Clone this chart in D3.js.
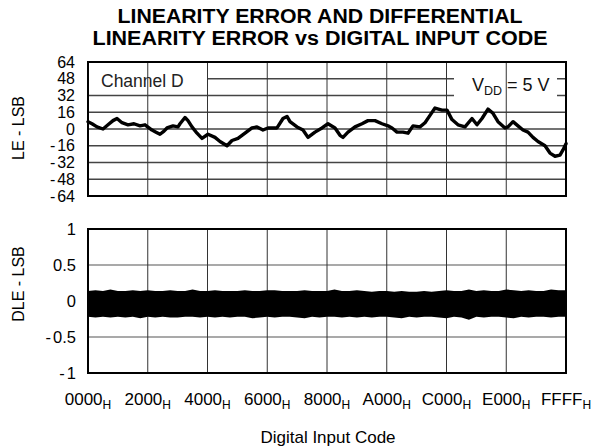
<!DOCTYPE html>
<html>
<head>
<meta charset="utf-8">
<script src="https://cdn.jsdelivr.net/npm/d3@7"></script>
<style>
  html, body { margin: 0; padding: 0; background: #fff; }
  svg { display: block; font-family: "Liberation Sans", Arial, sans-serif; }
</style>
</head>
<body>
<svg id="chart" width="610" height="448"></svg>
<script>
// ---- data ----
const titleLines = ["LINEARITY ERROR AND DIFFERENTIAL", "LINEARITY ERROR vs DIGITAL INPUT CODE"];
const titleWidths = [405, 455];
const xTickCodes = [0x0000, 0x2000, 0x4000, 0x6000, 0x8000, 0xA000, 0xC000, 0xE000, 0xFFFF];
const xTickLabels = ["0000", "2000", "4000", "6000", "8000", "A000", "C000", "E000", "FFFF"];
const leTicks = [64, 48, 32, 16, 0, -16, -32, -48, -64];
const dleTicks = [1, 0.5, 0, -0.5, -1];
const dleTickLabels = ["1", "0.5", "0", "0.5", "1"];

// linearity error (LSB) sampled along the input code
const leCodes = [0, 548, 1234, 2057, 2742, 3428, 3976, 4661, 5484, 6307, 7130, 7815, 8774, 9323, 9871,
  10420, 10831, 11654, 12339, 12613, 13299, 13710, 14258, 14944, 15629, 16452, 17412, 18097, 19057,
  19742, 20565, 21525, 22484, 23170, 23993, 24678, 25912, 26735, 27283, 27694, 28654, 29477, 30162,
  31122, 32081, 32904, 33864, 34549, 34961, 35646, 36606, 37565, 38388, 39348, 40307, 41130, 41678,
  42364, 43187, 43872, 44558, 45517, 46203, 46888, 47574, 48534, 49219, 49905, 50727, 51687, 52646,
  53332, 54017, 54840, 55526, 56211, 57171, 57582, 58268, 58953, 59639, 60324, 61010, 61695, 62655,
  63340, 64026, 64711, 65123, 65535];
const leValues = [7, 5, 2, 0, 4, 8, 10, 6, 4, 5, 3, 4, -1, -3, -5,
  -2, 1, 3, 2, 5, 11, 8, 2, -4, -9, -5, -8, -12, -16,
  -11, -9, -4, 1, 2, -1, 1, 1, 10, 12, 7, 2, -1, -8,
  -3, 1, 5, 1, -6, -8, -3, 2, 5, 8, 8, 5, 3, 1,
  -3, -3, -4, 3, 2, 6, 13, 20, 18, 18, 9, 4, 2, 10,
  4, 10, 19, 15, 7, 1, 2, 7, 3, -1, -3, -8, -12, -16,
  -23, -26, -25, -20, -14];

// differential linearity error envelope (LSB), every 1024 codes
const dleUpper = [0.14, 0.15, 0.14, 0.16, 0.14, 0.14, 0.15, 0.14, 0.15, 0.14, 0.14, 0.15, 0.14, 0.14, 0.16, 0.14,
  0.14, 0.15, 0.14, 0.14, 0.14, 0.15, 0.14, 0.14, 0.15, 0.15, 0.14, 0.14, 0.14, 0.15, 0.14, 0.14,
  0.14, 0.16, 0.14, 0.14, 0.15, 0.14, 0.13, 0.14, 0.14, 0.13, 0.14, 0.13, 0.13, 0.14, 0.13, 0.14,
  0.15, 0.14, 0.14, 0.16, 0.14, 0.15, 0.14, 0.14, 0.16, 0.15, 0.14, 0.15, 0.14, 0.14, 0.16, 0.15, 0.15];
const dleLower = [-0.22, -0.23, -0.22, -0.23, -0.22, -0.23, -0.22, -0.24, -0.22, -0.23, -0.22, -0.23, -0.23, -0.22, -0.22, -0.23,
  -0.22, -0.23, -0.22, -0.23, -0.22, -0.22, -0.24, -0.23, -0.22, -0.23, -0.22, -0.22, -0.23, -0.24, -0.22, -0.23,
  -0.22, -0.22, -0.23, -0.22, -0.23, -0.22, -0.23, -0.22, -0.22, -0.23, -0.24, -0.22, -0.23, -0.22, -0.22, -0.23,
  -0.24, -0.22, -0.23, -0.26, -0.22, -0.23, -0.22, -0.22, -0.23, -0.24, -0.22, -0.23, -0.22, -0.22, -0.23, -0.22, -0.22];

// ---- layout ----
const svg = d3.select("#chart");
const X0 = 88, X1 = 566;
const upperBox = { y0: 62, y1: 196 };
const lowerBox = { y0: 229, y1: 373 };

const x = d3.scaleLinear().domain([0, 65535]).range([X0, X1]);
const yLE = d3.scaleLinear().domain([-64, 64]).range([upperBox.y1, upperBox.y0]);
const yDLE = d3.scaleLinear().domain([-1, 1]).range([lowerBox.y1, lowerBox.y0]);

// title
svg.append("g").selectAll("text").data(titleLines).join("text")
  .attr("x", 320).attr("y", (d, i) => 22.5 + i * 22)
  .attr("text-anchor", "middle")
  .attr("font-size", 19.5).attr("font-weight", "bold")
  .attr("textLength", (d, i) => titleWidths[i])
  .attr("lengthAdjust", "spacingAndGlyphs")
  .text(d => d);

function grid(g, yScale, yTicksArr, hColor, hWidth) {
  g.append("g").selectAll("line").data(yTicksArr.slice(1, -1)).join("line")
    .attr("x1", X0).attr("x2", X1)
    .attr("y1", d => yScale(d)).attr("y2", d => yScale(d))
    .attr("stroke", hColor).attr("stroke-width", hWidth);
}
function vgrid(g, y0, y1) {
  g.append("g").selectAll("line").data(xTickCodes.slice(1, -1)).join("line")
    .attr("x1", d => x(d)).attr("x2", d => x(d))
    .attr("y1", y0).attr("y2", y1)
    .attr("stroke", "#333").attr("stroke-width", 1);
}

// tick label with a spaced minus sign for negative values
function tickText(sel, value, label) {
  sel.each(function (d, i) {
    const t = d3.select(this);
    if (value(d) < 0) {
      t.append("tspan").text("-");
      t.append("tspan").attr("dx", 2).text(label(d, i));
    } else {
      t.text(label(d, i));
    }
  });
}

// ---- upper panel: LE ----
const gTop = svg.append("g");
grid(gTop, yLE, leTicks, "#444", 1.4);

// label boxes mask part of the horizontal grid
gTop.append("rect").attr("x", X0 + 1).attr("y", upperBox.y0 + 1).attr("width", 118).attr("height", 29).attr("fill", "#fff");
gTop.append("rect").attr("x", 454).attr("y", upperBox.y0 + 1).attr("width", 103).attr("height", 38).attr("fill", "#fff");
vgrid(gTop, upperBox.y0, upperBox.y1);
gTop.append("text").attr("x", 101).attr("y", 87).attr("font-size", 17.5).attr("fill", "#222").text("Channel D");
const vdd = gTop.append("text").attr("x", 472).attr("y", 91).attr("font-size", 18).attr("fill", "#111");
vdd.append("tspan").text("V");
vdd.append("tspan").attr("font-size", 12.5).attr("dy", 4).text("DD");
vdd.append("tspan").attr("dy", -4).text(" = 5 V");

const leLine = d3.line().x((d, i) => x(leCodes[i])).y(d => yLE(d)).curve(d3.curveLinear);
gTop.append("path").datum(leValues)
  .attr("d", leLine).attr("fill", "none")
  .attr("stroke", "#000").attr("stroke-width", 3.4)
  .attr("stroke-linejoin", "round").attr("stroke-linecap", "round");

gTop.append("rect").attr("x", X0).attr("y", upperBox.y0).attr("width", X1 - X0).attr("height", upperBox.y1 - upperBox.y0)
  .attr("fill", "none").attr("stroke", "#000").attr("stroke-width", 2);

gTop.append("g").selectAll("text").data(leTicks).join("text")
  .attr("x", 75).attr("y", d => yLE(d) + 5.5)
  .attr("text-anchor", "end").attr("font-size", 16)
  .call(tickText, d => d, d => String(Math.abs(d)));

svg.append("text").attr("transform", "translate(24,128) rotate(-90)")
  .attr("text-anchor", "middle").attr("font-size", 16).text("LE - LSB");

// ---- lower panel: DLE ----
const gBot = svg.append("g");
grid(gBot, yDLE, dleTicks, "#555", 1.2);
vgrid(gBot, lowerBox.y0, lowerBox.y1);

const dleArea = d3.area()
  .x((d, i) => x(Math.min(i * 1024, 65535)))
  .y0((d, i) => yDLE(dleLower[i]))
  .y1(d => yDLE(d));
gBot.append("path").datum(dleUpper).attr("d", dleArea).attr("fill", "#000");

gBot.append("rect").attr("x", X0).attr("y", lowerBox.y0).attr("width", X1 - X0).attr("height", lowerBox.y1 - lowerBox.y0)
  .attr("fill", "none").attr("stroke", "#000").attr("stroke-width", 2);

gBot.append("g").selectAll("text").data(dleTicks).join("text")
  .attr("x", 76).attr("y", d => yDLE(d) + 5.5)
  .attr("text-anchor", "end").attr("font-size", 16.5)
  .call(tickText, d => d, (d, i) => dleTickLabels[i]);

svg.append("text").attr("transform", "translate(24,284) rotate(-90)")
  .attr("text-anchor", "middle").attr("font-size", 16).text("DLE - LSB");

// x tick labels with hexadecimal subscript
const xl = svg.append("g").selectAll("text").data(xTickCodes).join("text")
  .attr("x", d => x(d)).attr("y", 405)
  .attr("text-anchor", "middle").attr("font-size", 17);
xl.append("tspan").text((d, i) => xTickLabels[i]);
xl.append("tspan").attr("font-size", 12).attr("dy", 4).text("H");

svg.append("text").attr("x", 328).attr("y", 443)
  .attr("text-anchor", "middle").attr("font-size", 17).text("Digital Input Code");
</script>
</body>
</html>
